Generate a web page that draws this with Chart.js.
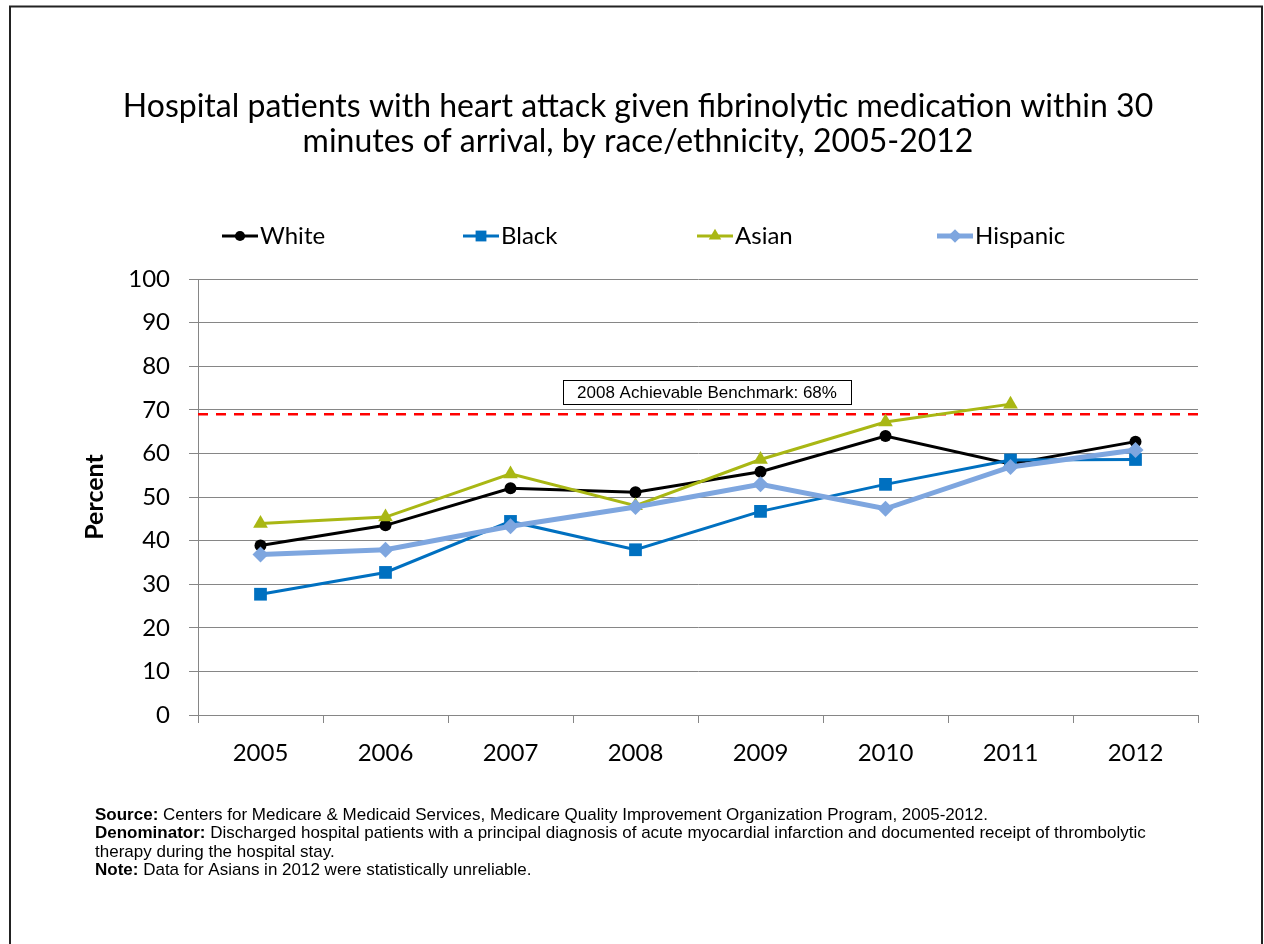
<!DOCTYPE html>
<html>
<head>
<meta charset="utf-8">
<script src="https://cdn.jsdelivr.net/npm/chart.js@4.4.1/dist/chart.umd.min.js"></script>
<style>
  html, body { margin: 0; padding: 0; background: #fff; }
  #wrap { position: relative; width: 1264px; height: 944px; }
  canvas { display: block; }
</style>
</head>
<body>
<div id="wrap"><canvas id="c" width="1264" height="944"></canvas></div>
<script>
const years = ['2005', '2006', '2007', '2008', '2009', '2010', '2011', '2012'];
const white = [38.9, 43.5, 52.0, 51.1, 55.8, 64.0, 57.6, 62.7];
const black = [27.7, 32.7, 44.4, 37.9, 46.7, 52.9, 58.5, 58.6];
const asian = [43.9, 45.4, 55.3, 48.0, 58.6, 67.2, 71.3, null];
const hispanic = [36.8, 37.9, 43.3, 47.7, 52.9, 47.3, 56.9, 60.8];
const yTicks = [0, 10, 20, 30, 40, 50, 60, 70, 80, 90, 100];
const benchmarkValue = 69;
const benchmarkLabel = '2008 Achievable Benchmark: 68%';
const titleLines = ['Hospital patients with heart attack given fibrinolytic medication within 30',
                    'minutes of arrival, by race/ethnicity, 2005-2012'];
const yTitle = 'Percent';
const notes = [
  ['Source:', ' Centers for Medicare & Medicaid Services, Medicare Quality Improvement Organization Program, 2005-2012.'],
  ['Denominator:', ' Discharged hospital patients with a principal diagnosis of acute myocardial infarction and documented receipt of thrombolytic'],
  ['', 'therapy during the hospital stay.'],
  ['Note:', ' Data for Asians in 2012 were statistically unreliable.']
];

const C_WHITE = '#000000', C_BLACK = '#0070C0', C_ASIAN = '#A9B714', C_HISP = '#7EA6DF';

const datasets = [
  { label: 'White', data: white, borderColor: C_WHITE, backgroundColor: C_WHITE, borderWidth: 3,
    pointStyle: 'circle', pointRadius: 6, order: 4 },
  { label: 'Black', data: black, borderColor: C_BLACK, backgroundColor: C_BLACK, borderWidth: 3,
    pointStyle: 'rect', pointRadius: 9, order: 3 },
  { label: 'Asian', data: asian, borderColor: C_ASIAN, backgroundColor: C_ASIAN, borderWidth: 3,
    pointStyle: 'triangle', pointRadius: 8.5, order: 2 },
  { label: 'Hispanic', data: hispanic, borderColor: C_HISP, backgroundColor: C_HISP, borderWidth: 5,
    pointStyle: 'rectRot', pointRadius: 8, order: 1 }
];
datasets.forEach(d => { d.tension = 0; d.pointBorderWidth = 0; d.pointHoverRadius = d.pointRadius; d.spanGaps = false; });

const FONT = 'Lato, "Open Sans", sans-serif';
const ARIAL = '"Liberation Sans", Arial, sans-serif';

const decor = {
  id: 'decor',
  beforeDatasetsDraw(chart) {
    const ctx = chart.ctx, a = chart.chartArea, y = chart.scales.y;
    const by = y.getPixelForValue(benchmarkValue);
    ctx.save();
    ctx.strokeStyle = '#FF0000';
    ctx.lineWidth = 2.5;
    ctx.setLineDash([10, 8]);
    ctx.beginPath();
    ctx.moveTo(a.left, by);
    ctx.lineTo(a.right, by);
    ctx.stroke();
    ctx.restore();
  },
  afterDraw(chart) {
    const ctx = chart.ctx, a = chart.chartArea;
    ctx.save();
    // outer border
    ctx.strokeStyle = '#222';
    ctx.lineWidth = 2;
    ctx.beginPath();
    ctx.moveTo(10, 960); ctx.lineTo(10, 6.5); ctx.lineTo(1262, 6.5); ctx.lineTo(1262, 960);
    ctx.stroke();

    // title
    ctx.fillStyle = '#000';
    ctx.textAlign = 'center';
    ctx.textBaseline = 'middle';
    ctx.font = '32px ' + FONT;
    ctx.fillText(titleLines[0], 638, 107);
    ctx.fillText(titleLines[1], 638, 142);

    // legend
    const legX = [222, 463, 697, 937];
    const ly = 236;
    datasets.forEach((d, i) => {
      const x = legX[i];
      ctx.strokeStyle = d.borderColor;
      ctx.lineWidth = d.borderWidth;
      ctx.beginPath(); ctx.moveTo(x, ly); ctx.lineTo(x + 36, ly); ctx.stroke();
      ctx.fillStyle = d.backgroundColor;
      Chart.helpers.drawPoint(ctx, { pointStyle: d.pointStyle, radius: d.pointRadius * 0.85, borderWidth: 0, rotation: 0 }, x + 18, ly);
      ctx.fillStyle = '#000';
      ctx.textAlign = 'left';
      ctx.textBaseline = 'middle';
      ctx.font = '24px ' + FONT;
      ctx.fillText(d.label, x + 38, ly);
    });

    // y title
    ctx.save();
    ctx.translate(95, (a.top + a.bottom) / 2);
    ctx.rotate(-Math.PI / 2);
    ctx.font = 'bold 25px ' + FONT;
    ctx.textAlign = 'center';
    ctx.textBaseline = 'middle';
    ctx.fillText(yTitle, 0, 0);
    ctx.restore();

    // benchmark label box
    ctx.font = '17px ' + ARIAL;
    ctx.textAlign = 'center';
    ctx.textBaseline = 'middle';
    ctx.fillStyle = '#fff';
    ctx.fillRect(563, 380, 288, 25);
    ctx.strokeStyle = '#000';
    ctx.lineWidth = 1;
    ctx.strokeRect(563.5, 380.5, 288, 24);
    ctx.fillStyle = '#000';
    ctx.fillText(benchmarkLabel, 707, 393);

    // notes
    ctx.textAlign = 'left';
    ctx.textBaseline = 'middle';
    const ny = [815, 833.5, 852, 870.5];
    notes.forEach((n, i) => {
      let x = 95;
      if (n[0]) {
        ctx.font = 'bold 17px ' + ARIAL;
        ctx.fillText(n[0], x, ny[i]);
        x += ctx.measureText(n[0]).width;
      }
      ctx.font = '17px ' + ARIAL;
      ctx.fillText(n[1], x, ny[i]);
    });
    ctx.restore();
  }
};

new Chart(document.getElementById('c'), {
  type: 'line',
  data: { labels: years, datasets },
  options: {
    responsive: false,
    animation: false,
    events: [],
    layout: { padding: { left: 0, right: 66, top: 279, bottom: 0 } },
    plugins: { legend: { display: false }, title: { display: false }, tooltip: { enabled: false } },
    scales: {
      x: {
        offset: true,
        grid: { offset: true, drawOnChartArea: false, drawTicks: true, tickLength: 8, color: '#868686', lineWidth: 1 },
        border: { color: '#868686', width: 1 },
        ticks: { color: '#000', font: { family: FONT, size: 24 }, padding: 16, maxRotation: 0, autoSkip: false },
        afterFit(s) { s.height = 944 - 715; }
      },
      y: {
        min: 0, max: 100,
        afterBuildTicks(s) { s.ticks = yTicks.map(v => ({ value: v })); },
        grid: { color: '#868686', lineWidth: 1, tickLength: 9 },
        border: { color: '#868686', width: 1 },
        ticks: { color: '#000', font: { family: FONT, size: 24 }, padding: 19 },
        afterFit(s) { s.width = 198; }
      }
    }
  },
  plugins: [decor]
});
</script>
</body>
</html>
